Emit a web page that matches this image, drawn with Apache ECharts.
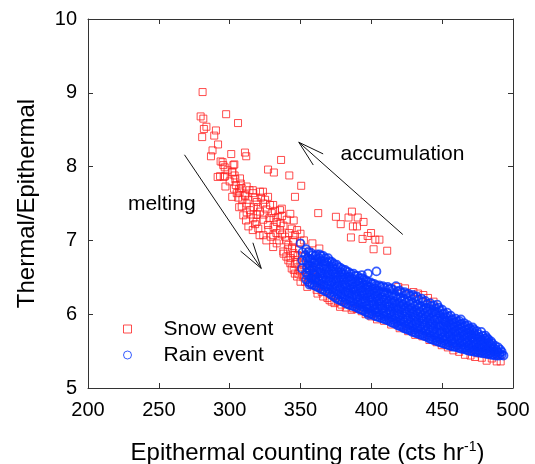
<!DOCTYPE html>
<html>
<head>
<meta charset="utf-8">
<script src="https://cdn.jsdelivr.net/npm/echarts@6/dist/echarts.min.js"></script>
<style>
  html, body { margin: 0; padding: 0; background: #fff; }
  #chart { width: 535px; height: 464px; }
</style>
</head>
<body>
<div id="chart"></div>
<script>
// axis ticks
const xTicks = [200, 250, 300, 350, 400, 450, 500];
const yTicks = [5, 6, 7, 8, 9, 10];

// snow event
const snowPoints = [
  [280.9, 9.01], [279.5, 8.68], [281.4, 8.65], [283.6, 8.54], [281.8, 8.51], [280.6, 8.40],
  [290.3, 8.49], [289.1, 8.42], [291.8, 8.30], [297.5, 8.71], [305.9, 8.59], [287.9, 8.22],
  [286.8, 8.14], [293.6, 8.07], [295.0, 8.06], [301.1, 8.17], [310.8, 8.19], [311.7, 8.14],
  [303.3, 8.03], [296.5, 7.99], [291.5, 7.86], [295.8, 7.86], [301.8, 7.93], [304.0, 7.83],
  [307.9, 7.77], [327.1, 7.96], [331.2, 7.92], [336.3, 8.09], [342.1, 7.88], [350.5, 7.74],
  [346.1, 7.59], [362.5, 7.37], [375.0, 7.32], [378.4, 7.22], [383.9, 7.31], [386.3, 7.39],
  [390.4, 7.31], [387.0, 7.19], [389.9, 7.19], [394.5, 7.25], [385.6, 7.04], [393.8, 7.02],
  [399.8, 7.10], [397.4, 7.06], [401.6, 6.88], [402.8, 7.01], [405.7, 7.01], [411.2, 6.86],
  [293.2, 7.87], [296.7, 7.87], [295.5, 8.02], [302.6, 8.02], [301.9, 7.92], [307.3, 7.84],
  [304.3, 7.75], [308.5, 7.71], [312.0, 7.73], [305.0, 7.64], [310.8, 7.62], [316.7, 7.64],
  [321.4, 7.66], [313.2, 7.55], [319.1, 7.52], [323.7, 7.50], [328.5, 7.48], [308.5, 7.46],
  [314.4, 7.41], [321.4, 7.39], [329.7, 7.37], [335.5, 7.41], [309.6, 7.34], [316.7, 7.30],
  [323.7, 7.28], [333.2, 7.25], [340.3, 7.28], [313.2, 7.19], [320.2, 7.16], [327.3, 7.14],
  [335.5, 7.14], [343.8, 7.16], [323.7, 7.07], [330.8, 7.07], [339.1, 7.05], [346.1, 7.07],
  [333.2, 6.96], [341.4, 6.94], [349.6, 6.96], [337.9, 6.85], [344.9, 6.83], [341.4, 6.73],
  [347.3, 6.73], [343.8, 6.62], [349.6, 6.58], [354.4, 6.53], [344.9, 6.98], [346.1, 6.80],
  [352.0, 6.67], [348.5, 6.55], [353.2, 6.44], [357.9, 6.40], [361.4, 6.33], [365.0, 6.30],
  [372.0, 6.17], [377.9, 6.10], [386.1, 6.06], [393.2, 6.04],
  [297.0, 7.73], [301.8, 7.59], [306.7, 7.45], [311.5, 7.27], [316.3, 7.14], [321.1, 7.07],
  [325.9, 7.00], [330.7, 6.91], [338.0, 6.82], [342.8, 6.69], [345.2, 6.60], [347.6, 6.51],
  [350.0, 6.44], [354.8, 6.37], [362.0, 6.28], [370.5, 6.19], [376.5, 6.17], [378.9, 6.13],
  [387.3, 6.08], [306.7, 7.70], [316.3, 7.68], [323.5, 7.66], [327.1, 7.59], [330.7, 7.48],
  [336.8, 7.43], [342.8, 7.36], [345.2, 7.27], [347.6, 7.14], [350.0, 7.09], [352.4, 7.00],
  [358.4, 6.96], [363.3, 6.89], [300.0, 7.80], [303.0, 7.70], [306.0, 7.58], [309.0, 7.55],
  [312.0, 7.50], [317.0, 7.45], [319.0, 7.35], [326.0, 7.42], [331.0, 7.30], [337.0, 7.33],
  [327.0, 7.21], [331.0, 7.18], [318.0, 7.22], [338.0, 7.20], [342.0, 7.10], [335.0, 7.00],
  [345.0, 7.00], [349.0, 6.88], [340.0, 6.78], [346.0, 6.68], [351.0, 6.78], [355.0, 6.62],
  [352.0, 6.50], [356.0, 6.85], [360.0, 6.70], [359.0, 6.55], [363.0, 6.45],
  [298.5, 7.95], [303.5, 7.88], [307.0, 7.65], [311.0, 7.60], [314.0, 7.68], [318.0, 7.58],
  [322.0, 7.58], [325.0, 7.55], [315.0, 7.35], [320.0, 7.45], [324.0, 7.35], [328.0, 7.30],
  [332.0, 7.40], [334.0, 7.32], [336.0, 7.23], [329.0, 7.05], [333.0, 7.10], [337.0, 7.08],
  [340.0, 7.00], [341.0, 6.88], [344.0, 6.90], [348.0, 6.80], [343.0, 6.76], [350.0, 6.70],
  [346.0, 6.55], [351.0, 6.60], [356.0, 6.48], [358.0, 6.60], [361.0, 6.50], [364.0, 6.38],
  [319.0, 7.25], [312.0, 7.38],
  [366.0, 6.24], [369.0, 6.22], [374.0, 6.15], [382.0, 6.09], [389.7, 6.07], [396.0, 6.00],
  [400.0, 5.97], [404.0, 5.93], [409.0, 5.91], [414.0, 5.86], [420.0, 5.81], [426.0, 5.77],
  [431.0, 5.72], [436.0, 5.70], [441.0, 5.65], [446.0, 5.62], [449.7, 5.58], [454.0, 5.55],
  [457.9, 5.51], [462.0, 5.49], [466.1, 5.45], [470.0, 5.44], [473.2, 5.42], [475.5, 5.47],
  [478.0, 5.41], [481.4, 5.37], [485.0, 5.40], [488.5, 5.36], [491.3, 5.36],
  [419.0, 6.37], [423.8, 6.35], [429.7, 6.30], [433.0, 6.28], [436.7, 6.26], [440.0, 6.22],
  [443.9, 6.17]
];

// rain event (dense cloud estimated column by column)
const rainPoints = [
  [350.0, 6.96], [351.2, 6.73], [351.0, 6.62], [351.5, 6.84], [356.4, 6.40],
  [354, 6.47], [354, 6.56], [354.5, 6.63], [354, 6.72], [353.5, 6.80], [354, 6.88],
  [357, 6.42], [357.5, 6.49], [357, 6.59], [356.5, 6.66], [357, 6.75], [357.5, 6.83],
  [360, 6.39], [360.5, 6.47], [360, 6.53], [359.5, 6.63], [360, 6.70], [360.5, 6.79],
  [363, 6.36], [363, 6.45], [363.5, 6.52], [363, 6.61], [362.5, 6.68], [363, 6.76], [363.5, 6.81],
  [366, 6.33], [366.5, 6.40], [366, 6.49], [365.5, 6.56], [366, 6.65], [366.5, 6.72], [366, 6.79],
  [369, 6.30], [369, 6.38], [369.5, 6.45], [369, 6.54], [368.5, 6.61], [369, 6.70], [369.5, 6.76],
  [372, 6.26], [372.5, 6.34], [372, 6.43], [371.5, 6.50], [372, 6.58], [372.5, 6.65], [372, 6.71],
  [375, 6.22], [375, 6.31], [375.5, 6.38], [375, 6.46], [374.5, 6.54], [375, 6.61], [375.5, 6.67],
  [378, 6.19], [378.5, 6.27], [378, 6.35], [377.5, 6.43], [378, 6.50], [378.5, 6.57], [378, 6.63],
  [381, 6.16], [381, 6.24], [381.5, 6.31], [381, 6.40], [380.5, 6.47], [381, 6.54], [381.5, 6.60],
  [384, 6.13], [384.5, 6.21], [384, 6.29], [383.5, 6.36], [384, 6.44], [384.5, 6.51], [384, 6.57],
  [387, 6.11], [387, 6.18], [387.5, 6.26], [387, 6.34], [386.5, 6.41], [387, 6.48], [387.5, 6.55],
  [390, 6.09], [390.5, 6.16], [390, 6.24], [389.5, 6.31], [390, 6.38], [390.5, 6.45], [390, 6.52],
  [393, 6.06], [393, 6.14], [393.5, 6.21], [393, 6.29], [392.5, 6.36], [393, 6.43], [393.5, 6.49],
  [393.3, 6.53], [397.6, 6.55], [403.6, 6.58], [398.1, 5.99],
  [396, 6.03], [396.5, 6.11], [396, 6.18], [395.5, 6.26], [396, 6.33], [396.5, 6.40], [396, 6.46],
  [399, 6.01], [399, 6.08], [399.5, 6.16], [399, 6.23], [398.5, 6.30], [399, 6.37], [399.5, 6.43],
  [402, 5.98], [402.5, 6.06], [402, 6.13], [401.5, 6.21], [402, 6.28], [402.5, 6.35], [402, 6.41],
  [405, 5.96], [405, 6.03], [405.5, 6.11], [405, 6.18], [404.5, 6.25], [405, 6.32], [405.5, 6.39],
  [408, 5.94], [408.5, 6.01], [408, 6.08], [407.5, 6.16], [408, 6.23], [408.5, 6.30], [408, 6.38],
  [411, 5.92], [411, 5.99], [411.5, 6.06], [411, 6.14], [410.5, 6.21], [411, 6.29], [411.5, 6.37],
  [414, 5.89], [414.5, 5.96], [414, 6.04], [413.5, 6.11], [414, 6.19], [414.5, 6.27], [414, 6.35],
  [417, 5.87], [417, 5.94], [417.5, 6.01], [417, 6.09], [416.5, 6.17], [417, 6.25], [417.4, 6.38],
  [420, 5.84], [420.5, 5.91], [420, 5.99], [419.5, 6.07], [420, 6.15], [420.5, 6.23], [420, 6.32],
  [423, 5.81], [423, 5.89], [423.5, 5.97], [423, 6.05], [422.5, 6.13], [423, 6.21], [423.5, 6.30],
  [426, 5.79], [426.5, 5.86], [426, 5.94], [425.5, 6.02], [426, 6.10], [426.5, 6.18], [426, 6.28],
  [429, 5.76], [429, 5.84], [429.5, 5.92], [429, 6.00], [428.5, 6.08], [429, 6.16], [429.5, 6.26],
  [432, 5.74], [432.5, 5.81], [432, 5.89], [431.5, 5.97], [432, 6.05], [432.5, 6.13], [432, 6.24],
  [435, 5.72], [435, 5.79], [435.5, 5.87], [435, 5.95], [434.5, 6.03], [435, 6.11], [435.5, 6.21],
  [438, 5.70], [438.5, 5.77], [438, 5.85], [437.5, 5.93], [438, 6.01], [438.5, 6.09], [438, 6.18],
  [441, 5.67], [441, 5.75], [441.5, 5.83], [441, 5.91], [440.5, 5.99], [441, 6.07], [441.5, 6.15],
  [444, 5.65], [444.5, 5.72], [444, 5.80], [443.5, 5.88], [444, 5.96], [444.5, 6.04], [444, 6.12],
  [446.5, 6.13],
  [447, 5.63], [447, 5.70], [447.5, 5.78], [447, 5.86], [446.5, 5.94], [447, 6.02], [447.5, 6.09],
  [450, 5.61], [450.5, 5.68], [450, 5.76], [449.5, 5.84], [450, 5.92], [450.5, 6.00], [450, 6.06],
  [453, 5.59], [453, 5.66], [453.5, 5.74], [453, 5.81], [452.5, 5.89], [453, 5.96], [453.5, 6.02],
  [456, 5.57], [456.5, 5.64], [456, 5.71], [455.5, 5.78], [456, 5.85], [456.5, 5.92], [456, 5.98],
  [459, 5.56], [459, 5.62], [459.5, 5.69], [459, 5.76], [458.5, 5.83], [459, 5.89], [459.5, 5.94],
  [462, 5.54], [462.5, 5.61], [462, 5.67], [461.5, 5.74], [462, 5.80], [462.5, 5.86], [462, 5.91],
  [463.2, 5.93],
  [465, 5.53], [465, 5.59], [465.5, 5.65], [465, 5.71], [464.5, 5.77], [465, 5.83], [465.5, 5.88],
  [468, 5.51], [468.5, 5.57], [468, 5.63], [467.5, 5.69], [468, 5.75], [468.5, 5.80], [468, 5.85],
  [471, 5.50], [471, 5.56], [471.5, 5.62], [471, 5.68], [470.5, 5.73], [471, 5.78], [471.5, 5.82],
  [474, 5.49], [474.5, 5.55], [474, 5.61], [473.5, 5.66], [474, 5.71], [474.5, 5.77],
  [477, 5.48], [477, 5.54], [477.5, 5.59], [477, 5.64], [476.5, 5.69], [477.6, 5.76],
  [480, 5.47], [480.5, 5.52], [480, 5.57], [479.5, 5.62], [480, 5.67], [480.5, 5.71],
  [483, 5.46], [483, 5.51], [483.5, 5.56], [483, 5.61], [482.5, 5.66],
  [486, 5.45], [486.5, 5.50], [486, 5.55], [485.5, 5.60],
  [489, 5.44], [489, 5.49], [489.5, 5.55],
  [492, 5.45], [492, 5.49], [493.3, 5.44],
  // in-between columns of the same cloud
  [355.5, 6.44], [355.5, 6.52], [356, 6.60], [355.5, 6.68], [355, 6.76], [355.5, 6.84],
  [358.5, 6.40], [358.5, 6.47], [359, 6.55], [358.5, 6.63], [358, 6.71], [358.5, 6.80],
  [361.5, 6.37], [361.5, 6.43], [362, 6.50], [361.5, 6.58], [361, 6.66], [361.5, 6.74], [361.5, 6.81],
  [364.5, 6.34], [364.5, 6.41], [365, 6.48], [364.5, 6.56], [364, 6.64], [364.5, 6.72], [364.5, 6.79],
  [367.5, 6.31], [367.5, 6.37], [368, 6.45], [367.5, 6.53], [367, 6.61], [367.5, 6.68], [367.5, 6.76],
  [370.5, 6.28], [370.5, 6.34], [371, 6.41], [370.5, 6.49], [370, 6.57], [370.5, 6.64], [370.5, 6.72],
  [373.5, 6.24], [373.5, 6.30], [374, 6.38], [373.5, 6.46], [373, 6.54], [373.5, 6.61], [373.5, 6.68],
  [376.5, 6.20], [376.5, 6.27], [377, 6.34], [376.5, 6.42], [376, 6.50], [376.5, 6.57], [376.5, 6.64],
  [379.5, 6.17], [379.5, 6.23], [380, 6.31], [379.5, 6.39], [379, 6.47], [379.5, 6.54], [379.5, 6.61],
  [382.5, 6.14], [382.5, 6.20], [383, 6.28], [382.5, 6.36], [382, 6.43], [382.5, 6.50], [382.5, 6.58],
  [385.5, 6.12], [385.5, 6.17], [386, 6.25], [385.5, 6.33], [385, 6.40], [385.5, 6.47], [385.5, 6.55],
  [388.5, 6.10], [388.5, 6.14], [389, 6.22], [388.5, 6.30], [388, 6.37], [388.5, 6.44], [388.5, 6.52],
  [391.5, 6.07], [391.5, 6.12], [392, 6.20], [391.5, 6.27], [391, 6.35], [391.5, 6.42], [391.5, 6.49],
  [394.5, 6.05], [394.5, 6.10], [395, 6.17], [394.5, 6.25], [394, 6.32], [394.5, 6.40], [394.5, 6.47],
  [397.5, 6.02], [397.5, 6.07], [398, 6.14], [397.5, 6.22], [397, 6.29], [397.5, 6.37], [397.5, 6.44],
  [400.5, 6.00], [400.5, 6.04], [401, 6.12], [400.5, 6.19], [400, 6.27], [400.5, 6.34], [400.5, 6.41],
  [403.5, 5.97], [403.5, 6.02], [404, 6.09], [403.5, 6.17], [403, 6.24], [403.5, 6.31], [403.5, 6.39],
  [406.5, 5.95], [406.5, 5.99], [407, 6.07], [406.5, 6.14], [406, 6.21], [406.5, 6.29], [406.5, 6.37],
  [409.5, 5.93], [409.5, 5.97], [410, 6.04], [409.5, 6.12], [409, 6.19], [409.5, 6.27], [409.5, 6.36],
  [412.5, 5.91], [412.5, 5.94], [413, 6.02], [412.5, 6.10], [412, 6.17], [412.5, 6.25], [412.5, 6.34],
  [415.5, 5.88], [415.5, 5.92], [416, 6.00], [415.5, 6.08], [415, 6.15], [415.5, 6.23], [415.5, 6.33],
  [418.5, 5.85], [418.5, 5.89], [419, 5.97], [418.5, 6.05], [418, 6.13], [418.5, 6.21], [418.5, 6.31],
  [421.5, 5.83], [421.5, 5.86], [422, 5.94], [421.5, 6.02], [421, 6.10], [421.5, 6.18], [421.5, 6.29],
  [424.5, 5.80], [424.5, 5.84], [425, 5.92], [424.5, 6.00], [424, 6.08], [424.5, 6.16], [424.5, 6.27],
  [427.5, 5.78], [427.5, 5.81], [428, 5.89], [427.5, 5.97], [427, 6.05], [427.5, 6.13], [427.5, 6.25],
  [430.5, 5.75], [430.5, 5.79], [431, 5.87], [430.5, 5.95], [430, 6.03], [430.5, 6.11], [430.5, 6.23],
  [433.5, 5.73], [433.5, 5.76], [434, 5.84], [433.5, 5.92], [433, 6.00], [433.5, 6.08], [433.5, 6.20],
  [436.5, 5.71], [436.5, 5.74], [437, 5.82], [436.5, 5.90], [436, 5.98], [436.5, 6.06], [436.5, 6.17],
  [439.5, 5.69], [439.5, 5.72], [440, 5.80], [439.5, 5.88], [439, 5.96], [439.5, 6.04], [439.5, 6.14],
  [442.5, 5.66], [442.5, 5.70], [443, 5.78], [442.5, 5.86], [442, 5.94], [442.5, 6.02], [442.5, 6.11],
  [445.5, 5.64], [445.5, 5.68], [446, 5.76], [445.5, 5.84], [445, 5.92], [445.5, 6.00], [445.5, 6.08],
  [448.5, 5.62], [448.5, 5.66], [449, 5.74], [448.5, 5.82], [448, 5.90], [448.5, 5.98], [448.5, 6.05],
  [451.5, 5.60], [451.5, 5.64], [452, 5.71], [451.5, 5.79], [451, 5.86], [451.5, 5.94], [451.5, 6.01],
  [454.5, 5.58], [454.5, 5.62], [455, 5.69], [454.5, 5.76], [454, 5.83], [454.5, 5.90], [454.5, 5.97],
  [457.5, 5.56], [457.5, 5.60], [458, 5.67], [457.5, 5.74], [457, 5.80], [457.5, 5.87], [457.5, 5.93],
  [460.5, 5.55], [460.5, 5.58], [461, 5.65], [460.5, 5.71], [460, 5.78], [460.5, 5.84], [460.5, 5.90],
  [463.5, 5.53], [463.5, 5.56], [464, 5.63], [463.5, 5.69], [463, 5.75], [463.5, 5.81], [463.5, 5.87],
  [466.5, 5.52], [466.5, 5.55], [467, 5.61], [466.5, 5.67], [466, 5.73], [466.5, 5.79], [466.5, 5.84],
  [469.5, 5.50], [469.5, 5.54], [470, 5.59], [469.5, 5.65], [469, 5.71], [469.5, 5.76], [469.5, 5.81],
  [472.5, 5.49], [472.5, 5.52], [473, 5.58], [472.5, 5.63], [472, 5.69], [472.5, 5.74], [472.5, 5.79],
  [475.5, 5.48], [475.5, 5.51], [476, 5.57], [475.5, 5.62], [475, 5.67], [475.5, 5.73],
  [478.5, 5.47], [478.5, 5.50], [479, 5.55], [478.5, 5.60], [478, 5.65], [478.5, 5.71],
  [481.5, 5.46], [481.5, 5.49], [482, 5.54], [481.5, 5.59], [481, 5.64], [481.5, 5.68],
  [484.5, 5.45], [484.5, 5.48], [485, 5.53], [484.5, 5.58], [484.5, 5.63],
  [487.5, 5.44], [487.5, 5.47], [488, 5.52], [487.5, 5.57],
  [490.5, 5.44], [490.5, 5.47], [491, 5.52]
];

// arrows [x1, y1, x2, y2] (tail -> head) and annotation labels
const arrows = [
  [268.1, 8.16, 322.3, 6.62],
  [422.2, 7.08, 348.8, 8.33]
];
const notes = [
  [228.2, 7.49, 'melting'],
  [378.3, 8.17, 'accumulation']
];

const seriesNames = ['Snow event', 'Rain event'];

const chart = echarts.init(document.getElementById('chart'));
const font = 'Liberation Sans, Arial, sans-serif';
const frame = { show: true, lineStyle: { color: '#333', width: 1 } };

const baseX = {
  type: 'value', min: 200, max: 500, interval: 50,
  axisLine: frame,
  axisTick: { show: true, inside: true, length: 5, lineStyle: { color: '#333' } },
  splitLine: { show: false }
};
const baseY = {
  type: 'value', min: 5, max: 10, interval: 1,
  axisLine: frame,
  axisTick: { show: true, inside: true, length: 5, lineStyle: { color: '#333' } },
  splitLine: { show: false }
};

chart.setOption({
  animation: false,
  backgroundColor: '#fff',
  textStyle: { fontFamily: font },
  grid: { left: 88, right: 22, top: 19, bottom: 76, outerBoundsMode: 'none' },
  legend: {
    data: [
      { name: seriesNames[0], icon: 'path://M0,0H10V10H0Z' },
      { name: seriesNames[1] }
    ],
    orient: 'vertical',
    left: 123,
    top: 318,
    padding: 0,
    itemWidth: 62,
    itemHeight: 8,
    itemGap: 4,
    itemStyle: { borderWidth: 1 },
    textStyle: { fontSize: 21, color: '#000', fontFamily: font, lineHeight: 22 }
  },
  xAxis: [
    Object.assign({}, baseX, {
      position: 'bottom',
      axisLabel: { fontSize: 20, color: '#000', margin: 12, fontFamily: font,
        formatter: v => (xTicks.includes(v) ? String(v) : '') },
      name: '{n|Epithermal counting rate (cts hr}{s|-1}{n|)}',
      nameLocation: 'middle',
      nameGap: 52,
      nameTextStyle: {
        padding: [0, 0, 0, 14],
        rich: {
          n: { fontSize: 24, color: '#000', fontFamily: font },
          s: { fontSize: 14, color: '#000', fontFamily: font, padding: [0, 0, 12, 0] }
        }
      }
    }),
    Object.assign({}, baseX, { position: 'top', axisLabel: { show: false } })
  ],
  yAxis: [
    Object.assign({}, baseY, {
      position: 'left',
      axisLabel: { fontSize: 20, color: '#000', margin: 11, fontFamily: font,
        formatter: v => (yTicks.includes(v) ? String(v) : '') },
      name: 'Thermal/Epithermal',
      nameLocation: 'middle',
      nameGap: 49,
      nameTextStyle: { fontSize: 24, color: '#000', fontFamily: font }
    }),
    Object.assign({}, baseY, { position: 'right', axisLabel: { show: false } })
  ],
  series: [
    {
      name: seriesNames[0],
      type: 'scatter',
      symbol: 'rect',
      symbolSize: 7,
      data: snowPoints,
      itemStyle: { color: 'rgba(255,255,255,0)', borderColor: '#ff2020', borderWidth: 1 },
      z: 2
    },
    {
      name: seriesNames[1],
      type: 'scatter',
      symbol: 'circle',
      symbolSize: 8,
      data: rainPoints,
      itemStyle: { color: 'rgba(255,255,255,0)', borderColor: '#0535ff', borderWidth: 1.8 },
      z: 3
    },
    {
      type: 'custom',
      data: arrows,
      z: 4,
      silent: true,
      renderItem: (params, api) => {
        const a = api.coord([api.value(0), api.value(1)]);
        const b = api.coord([api.value(2), api.value(3)]);
        const ang = Math.atan2(a[1] - b[1], a[0] - b[0]);
        const len = 27, spread = 16 * Math.PI / 180;
        const h1 = [b[0] + len * Math.cos(ang + spread), b[1] + len * Math.sin(ang + spread)];
        const h2 = [b[0] + len * Math.cos(ang - spread), b[1] + len * Math.sin(ang - spread)];
        return {
          type: 'group',
          children: [
            { type: 'line', shape: { x1: a[0], y1: a[1], x2: b[0], y2: b[1] },
              style: { stroke: '#111', lineWidth: 1 } },
            { type: 'polyline', shape: { points: [h1, b, h2] },
              style: { stroke: '#111', lineWidth: 1, fill: null } }
          ]
        };
      }
    },
    {
      type: 'custom',
      data: notes,
      z: 4,
      silent: true,
      renderItem: (params, api) => {
        const p = api.coord([api.value(0), api.value(1)]);
        return {
          type: 'text',
          x: p[0], y: p[1],
          style: { text: notes[params.dataIndex][2], fill: '#000',
            font: '21px ' + font, verticalAlign: 'middle', align: 'left' }
        };
      }
    }
  ]
});
</script>
</body>
</html>
